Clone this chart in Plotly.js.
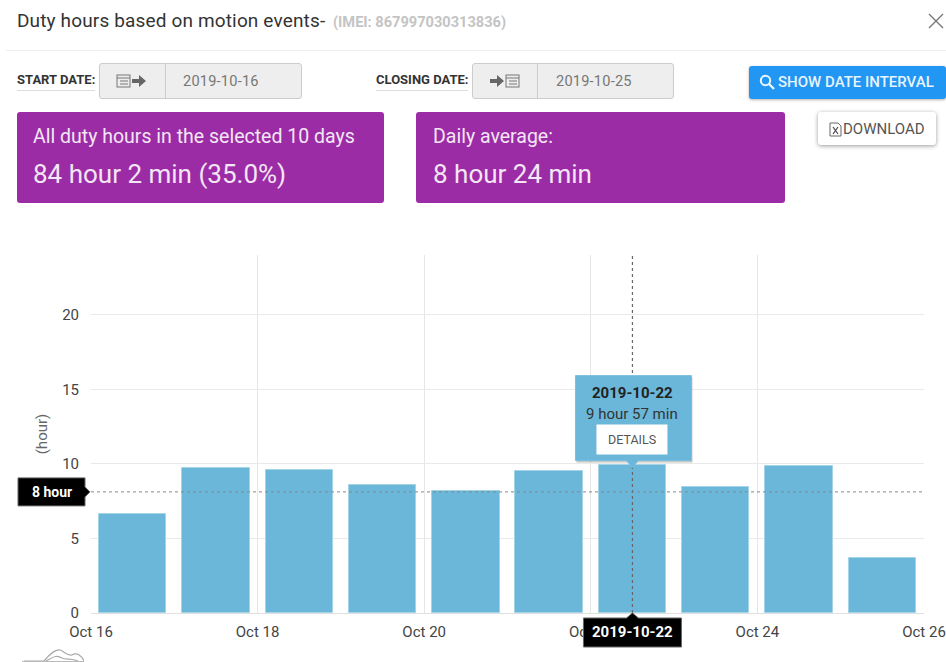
<!DOCTYPE html>
<html><head><meta charset="utf-8">
<script src="https://cdn.plot.ly/plotly-3.0.1.min.js"></script>
<style>
html,body{margin:0;padding:0;background:#fff;width:946px;height:662px;overflow:hidden;font-family:Roboto,sans-serif}
#chart{position:absolute;left:0;top:0;width:946px;height:662px}
.a{position:absolute;white-space:nowrap;box-sizing:border-box}
.box{background:#9c2ca6;border-radius:3px;color:#f6ecf7}
.grp{background:#eee;border:1px solid #ccc;border-radius:3px;height:36px;top:63px}
.lab{font-size:13px;font-weight:700;color:#333;top:73px;border-bottom:1px solid #ddd;padding-bottom:3px;line-height:14px}
.dt{font-size:14.6px;color:#777;top:73px;line-height:17px;letter-spacing:.2px}
</style></head><body>
<div id="chart"></div>
<div class="a" style="left:17px;top:11px;font-size:19px;color:#333;line-height:20px;letter-spacing:.15px">Duty hours based on motion events-</div>
<div class="a" style="left:333px;top:14px;font-size:14.6px;font-weight:700;color:#c4c4c4;line-height:16px">(IMEI: 867997030313836)</div>
<svg class="a" style="left:928px;top:13px" width="16" height="16"><path d="M1 1L15 15M15 1L1 15" stroke="#777" stroke-width="1.4" fill="none"/></svg>
<div class="a" style="left:6px;top:50px;width:940px;height:1px;background:#efefef"></div>

<div class="a lab" style="left:17px;width:78px">START DATE:</div>
<div class="a grp" style="left:99px;width:203px"></div>
<div class="a" style="left:165px;top:64px;width:1px;height:34px;background:#ccc"></div>
<svg class="a" style="left:116px;top:73px" width="32" height="16"><rect x="1" y="2" width="13" height="12" fill="none" stroke="#777"/><path d="M1 5H14M4 8H12M4 11H12" stroke="#777"/><path d="M16 6H23V2L30 8L23 14V10H16Z" fill="#666"/></svg>
<div class="a dt" style="left:183px">2019-10-16</div>

<div class="a lab" style="left:376px;width:92px">CLOSING DATE:</div>
<div class="a grp" style="left:472px;width:202px"></div>
<div class="a" style="left:537px;top:64px;width:1px;height:34px;background:#ccc"></div>
<svg class="a" style="left:489px;top:73px" width="32" height="16"><path d="M1 6H8V2L15 8L8 14V10H1Z" fill="#666"/><rect x="17" y="2" width="13" height="12" fill="none" stroke="#777"/><path d="M17 5H30M20 8H28M20 11H28" stroke="#777"/></svg>
<div class="a dt" style="left:556px">2019-10-25</div>

<div class="a" style="left:749px;top:66px;width:197px;height:33px;background:#2196f3;border-radius:3px;box-shadow:0 1px 3px rgba(0,0,0,.3)"></div>
<svg class="a" style="left:759px;top:74px" width="17" height="17"><circle cx="6.5" cy="6.5" r="4.7" fill="none" stroke="#e8f4fe" stroke-width="2"/><path d="M10 10L15 15" stroke="#e8f4fe" stroke-width="2.4"/></svg>
<div class="a" style="left:778px;top:74px;font-size:15px;font-weight:500;color:#e8f4fe;line-height:17px">SHOW DATE INTERVAL</div>

<div class="a box" style="left:17px;top:112px;width:367px;height:91px"></div>
<div class="a" style="left:33px;top:126px;font-size:19.5px;color:#f3e6f5;line-height:22px">All duty hours in the selected 10 days</div>
<div class="a" style="left:33px;top:159px;font-size:26px;color:#f3e6f5;line-height:30px">84 hour 2 min (35.0%)</div>
<div class="a box" style="left:416px;top:112px;width:369px;height:91px"></div>
<div class="a" style="left:433px;top:126px;font-size:19.5px;color:#f3e6f5;line-height:22px">Daily average:</div>
<div class="a" style="left:433px;top:159px;font-size:26px;color:#f3e6f5;line-height:30px">8 hour 24 min</div>

<div class="a" style="left:818px;top:112px;width:118px;height:33px;background:#fff;border-radius:3px;box-shadow:0 1px 4px rgba(0,0,0,.4)"></div>
<svg class="a" style="left:829px;top:122px" width="13" height="15"><path d="M1 1H9L12 4V14H1Z" fill="#fff" stroke="#666"/><path d="M4 5L9 12M9 5L4 12" stroke="#444" stroke-width="1.2"/></svg>
<div class="a" style="left:843px;top:121px;font-size:15px;color:#555;line-height:17px">DOWNLOAD</div>

<svg class="a" style="left:22px;top:646px" width="62" height="16"><path d="M2 15H22C28 8 33 3 38 4C42 5 45 10 50 9C55 6 60 10 62 15M24 15C30 12 34 8 40 12C44 14 50 12 56 15" fill="none" stroke="#aaa" stroke-width="1.2"/><path d="M0 15.5H62" stroke="#bbb"/></svg>

<script>
var days = ['2019-10-16','2019-10-17','2019-10-18','2019-10-19','2019-10-20','2019-10-21','2019-10-22','2019-10-23','2019-10-24','2019-10-25'];
var dutyHours = [6.67,9.7,9.56,8.56,8.19,9.5,9.95,8.43,9.83,3.68];
var yTicks = [0,5,10,15,20];
var xRange = ['2019-10-16','2019-10-26'];
var crossDay = '2019-10-22 12:00';
var crossHour = 8.12;
var crossValue = 9.95;
var barColor = '#6ab7d9';
var DAY = 86400000;

var trace = {type:'bar', x:days, y:dutyHours, xperiod:DAY, xperiodalignment:'middle',
  width:0.81*DAY, marker:{color:barColor, line:{color:'#a5d3e8', width:1}}, hoverinfo:'skip'};

var shapes = [
  {type:'line', layer:'above', xref:'x', yref:'paper', x0:crossDay, x1:crossDay, y0:0, y1:1, line:{color:'#666', width:1.2, dash:'dot'}},
  {type:'line', layer:'above', xref:'paper', yref:'y', x0:0, x1:1, y0:crossHour, y1:crossHour, line:{color:'#888', width:1, dash:'3px 3px'}},
  {type:'path', layer:'above', xref:'paper', yref:'y', xsizemode:'pixel', ysizemode:'pixel', xanchor:0, yanchor:crossHour,
    path:'M -73 -14 L -6 -14 L -6 -5 L -1 0 L -6 5 L -6 14 L -73 14 Z', fillcolor:'#000', line:{color:'#666',width:1}},
  {type:'path', layer:'above', xref:'x', yref:'paper', xsizemode:'pixel', ysizemode:'pixel', xanchor:crossDay, yanchor:0,
    path:'M -49 -5 L -6 -5 L 0 0 L 6 -5 L 49 -5 L 49 -34 L -49 -34 Z', fillcolor:'#000', line:{color:'#666',width:1}},
  {type:'rect', layer:'above', xref:'x', yref:'y', xsizemode:'pixel', ysizemode:'pixel', xanchor:crossDay, yanchor:crossValue,
    x0:-56, x1:60, y0:2, y1:87, fillcolor:'rgba(0,0,0,0.22)', line:{width:0}},
  {type:'path', layer:'above', xref:'x', yref:'y', xsizemode:'pixel', ysizemode:'pixel', xanchor:crossDay, yanchor:crossValue,
    path:'M -57 4 L -6 4 L 0 -3 L 6 4 L 59 4 L 59 89 L -57 89 Z', fillcolor:barColor, line:{color:'#7cc0de',width:1}},
  {type:'rect', layer:'above', xref:'x', yref:'y', xsizemode:'pixel', ysizemode:'pixel', xanchor:crossDay, yanchor:crossValue,
    x0:-36, x1:35, y0:10, y1:40, fillcolor:'#fff', line:{width:0}}
];

function note(text, yshift, size, color, bold){
  return {xref:'x', yref:'y', x:crossDay, y:crossValue, yshift:yshift, text:bold?'<b>'+text+'</b>':text, showarrow:false,
    font:{family:'Roboto, sans-serif', size:size, color:color}, xanchor:'center', yanchor:'middle'};
}
var annotations = [
  note('2019-10-22', 72, 15, '#222', true),
  note('9 hour 57 min', 51, 15, '#333', false),
  note('DETAILS', 25, 12.5, '#555', false),
  {xref:'paper', yref:'y', x:0, y:crossHour, xshift:-39, xanchor:'center', yanchor:'middle', text:'<b>8 hour</b>', showarrow:false,
    font:{family:'Roboto, sans-serif', size:14, color:'#fff'}},
  {xref:'x', yref:'paper', x:crossDay, y:0, yshift:-19, xanchor:'center', yanchor:'middle', text:'<b>2019-10-22</b>', showarrow:false,
    font:{family:'Roboto, sans-serif', size:15, color:'#fff'}}
];

var layout = {
  width:946, height:662, margin:{l:91, r:22, t:255, b:49, pad:0},
  paper_bgcolor:'rgba(0,0,0,0)', plot_bgcolor:'#fff', showlegend:false,
  font:{family:'Roboto, sans-serif', size:15, color:'#444'},
  bargap:0,
  xaxis:{type:'date', range:xRange, dtick:2*DAY, tick0:'2019-10-16', tickformat:'%b %d',
    showgrid:true, gridcolor:'#e6e6e6', gridwidth:1, showline:true, linecolor:'#e0e0e0', linewidth:1,
    ticks:'', zeroline:false, tickfont:{size:15,color:'#444'}, ticklabelstandoff:5, fixedrange:true},
  yaxis:{range:[0,24], tickvals:yTicks, ticktext:yTicks.map(String), showgrid:true, gridcolor:'#e9e9e9', gridwidth:1,
    zeroline:false, ticks:'', ticklabelstandoff:11, tickfont:{size:15,color:'#444'}, fixedrange:true,
    title:{text:'(hour)', font:{size:15,color:'#666'}, standoff:10}},
  shapes:shapes, annotations:annotations
};
Plotly.newPlot('chart',[trace],layout,{displayModeBar:false,responsive:false});
</script>
</body></html>
